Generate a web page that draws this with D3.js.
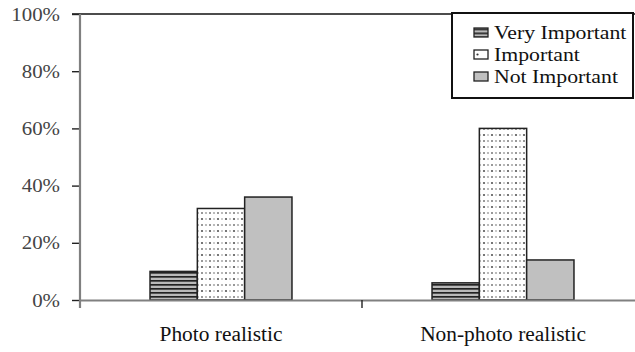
<!DOCTYPE html>
<html>
<head>
<meta charset="utf-8">
<script src="https://cdn.jsdelivr.net/npm/d3@7"></script>
<style>
  html, body { margin: 0; padding: 0; background: #fff; }
  svg { display: block; }
</style>
</head>
<body>
<svg id="chart" width="635" height="352"></svg>
<script>
// Share of respondents rating each rendering style
const categories = ["Photo realistic", "Non-photo realistic"];
const seriesNames = ["Very Important", "Important", "Not Important"];
const veryImportant = [10, 6];
const important = [32, 60];
const notImportant = [36, 14];
const yTicks = [0, 20, 40, 60, 80, 100];
const yTickLabels = ["0%", "20%", "40%", "60%", "80%", "100%"];

const seriesValues = [veryImportant, important, notImportant];
const rows = categories.map((c, i) => ({
  category: c,
  values: seriesNames.map((s, j) => ({ series: s, value: seriesValues[j][i] }))
}));

const FONT = "'Liberation Serif', 'Times New Roman', serif";
const svg = d3.select("#chart");
const margin = { left: 80, top: 14, bottom: 300, right: 644 };

// fills: horizontal stripes, dotted, plain grey
const defs = svg.append("defs");
const stripes = defs.append("pattern").attr("id", "stripes")
  .attr("patternUnits", "userSpaceOnUse").attr("width", 8).attr("height", 4);
stripes.append("rect").attr("width", 8).attr("height", 4).attr("fill", "#9a9a9a");
stripes.append("rect").attr("y", 0).attr("width", 8).attr("height", 1.6).attr("fill", "#222");
stripes.append("rect").attr("y", 2.6).attr("width", 8).attr("height", 0.8).attr("fill", "#e8e8e8");

const dots = defs.append("pattern").attr("id", "dots")
  .attr("patternUnits", "userSpaceOnUse").attr("width", 8).attr("height", 12);
dots.append("rect").attr("width", 8).attr("height", 12).attr("fill", "#fff");
dots.append("circle").attr("cx", 2).attr("cy", 3).attr("r", 1.1).attr("fill", "#555");
dots.append("circle").attr("cx", 6).attr("cy", 9).attr("r", 1.1).attr("fill", "#aaa");
dots.append("circle").attr("cx", 6).attr("cy", 3).attr("r", 1.0).attr("fill", "#bbb");
dots.append("circle").attr("cx", 2).attr("cy", 9).attr("r", 1.0).attr("fill", "#777");

const fills = { "Very Important": "url(#stripes)", "Important": "url(#dots)", "Not Important": "#c0c0c0" };

const y = d3.scaleLinear().domain([0, 100]).range([margin.bottom, margin.top]);
const x0 = d3.scaleBand().domain(categories).range([margin.left, margin.right]).padding(0);
const x1 = d3.scaleBand().domain(seriesNames).range([0, x0.bandwidth()])
  .paddingInner(0).paddingOuter(1.48);

// top frame line
svg.append("line")
  .attr("x1", 72).attr("x2", 635)
  .attr("y1", y(100)).attr("y2", y(100))
  .attr("stroke", "#111").attr("stroke-width", 1.6);

// bars
const groups = svg.append("g").selectAll("g").data(rows).join("g")
  .attr("transform", d => `translate(${x0(d.category)},0)`);
groups.selectAll("rect").data(d => d.values).join("rect")
  .attr("x", d => x1(d.series))
  .attr("y", d => y(d.value))
  .attr("width", x1.bandwidth())
  .attr("height", d => y(0) - y(d.value))
  .attr("fill", d => fills[d.series])
  .attr("stroke", "#222")
  .attr("stroke-width", 1.5);

// x axis
const xAxis = d3.axisBottom(x0).tickSize(0).tickPadding(27);
const gx = svg.append("g").attr("transform", `translate(0,${margin.bottom})`).call(xAxis);
gx.select(".domain").attr("stroke", "#808080").attr("stroke-width", 2);
gx.selectAll(".tick text")
  .attr("font-family", FONT)
  .attr("font-size", 20).attr("fill", "#111")
  .attr("transform", function () {
    const yy = +d3.select(this).attr("y");
    return `translate(0,${yy}) scale(1.07,1) translate(0,${-yy})`;
  });
// divider tick between categories
gx.append("line")
  .attr("x1", x0(categories[1])).attr("x2", x0(categories[1]))
  .attr("y1", 0).attr("y2", 8)
  .attr("stroke", "#222").attr("stroke-width", 1.4);

// y axis
const yAxis = d3.axisLeft(y).tickValues(yTicks)
  .tickFormat((d, i) => yTickLabels[i]).tickSize(8).tickPadding(12);
const gy = svg.append("g").attr("transform", `translate(${margin.left},0)`).call(yAxis);
gy.select(".domain").remove();
gy.append("line")
  .attr("x1", 0).attr("x2", 0).attr("y1", y(100)).attr("y2", y(0) + 8)
  .attr("stroke", "#808080").attr("stroke-width", 2.2);
gy.selectAll(".tick line").attr("stroke", "#222").attr("stroke-width", 1.4);
gy.selectAll(".tick text")
  .attr("font-family", FONT)
  .attr("font-size", 19).attr("fill", "#444")
  .attr("x", 0)
  .attr("transform", "translate(-20,0) scale(1.1,1)");

// legend
const legend = svg.append("g");
legend.append("rect")
  .attr("x", 452).attr("y", 13).attr("width", 181).attr("height", 85)
  .attr("fill", "#fff").attr("stroke", "#111").attr("stroke-width", 2);
const items = legend.selectAll("g.item").data(seriesNames).join("g")
  .attr("class", "item")
  .attr("transform", (d, i) => `translate(474,${32.5 + i * 22})`);
items.append("rect")
  .attr("x", 0).attr("y", -4.5).attr("width", 14).attr("height", 9)
  .attr("fill", d => d === "Very Important" ? "url(#stripes)" : (d === "Not Important" ? "#c0c0c0" : "#fff"))
  .attr("stroke", "#222").attr("stroke-width", 1.3);
items.filter(d => d === "Important").append("circle")
  .attr("cx", 3.5).attr("cy", 0).attr("r", 1.1).attr("fill", "#333");
items.append("text")
  .attr("x", 0).attr("y", 0).attr("dy", "0.35em")
  .attr("transform", "translate(20,0) scale(1.21,1)")
  .attr("font-family", FONT)
  .attr("font-size", 18).attr("fill", "#111")
  .text(d => d);
</script>
</body>
</html>
